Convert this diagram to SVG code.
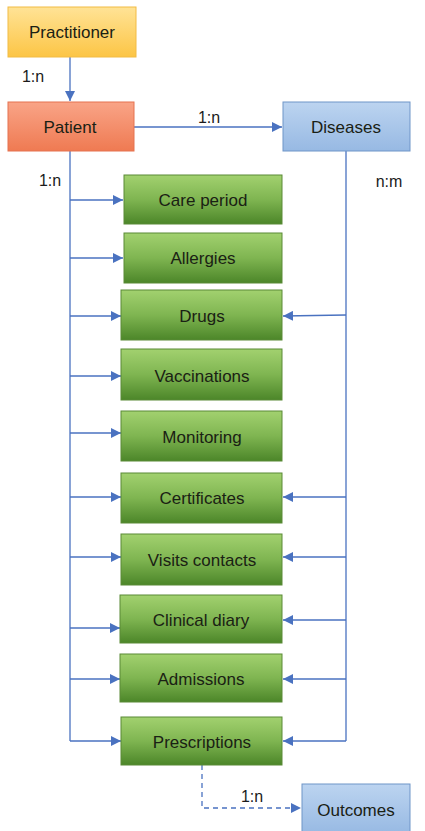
<svg xmlns="http://www.w3.org/2000/svg" width="425" height="831" viewBox="0 0 425 831">
<defs>
<linearGradient id="gY" x1="0" y1="0" x2="0" y2="1"><stop offset="0" stop-color="#ffe396"/><stop offset="1" stop-color="#fcc545"/></linearGradient>
<linearGradient id="gR" x1="0" y1="0" x2="0" y2="1"><stop offset="0" stop-color="#f9a487"/><stop offset="1" stop-color="#ef7a52"/></linearGradient>
<linearGradient id="gB" x1="0" y1="0" x2="0" y2="1"><stop offset="0" stop-color="#bcd4f0"/><stop offset="1" stop-color="#97b9e3"/></linearGradient>
<linearGradient id="gG" x1="0" y1="0" x2="0" y2="1"><stop offset="0" stop-color="#a2d16f"/><stop offset="0.5" stop-color="#7fb551"/><stop offset="1" stop-color="#4c8629"/></linearGradient>
<marker id="ar" viewBox="0 0 10 10" refX="10" refY="5" markerWidth="10" markerHeight="10" markerUnits="userSpaceOnUse" orient="auto"><path d="M0,0 L10,5 L0,10 z" fill="#4a72c0"/></marker>
</defs>
<style>
.t{font-family:"Liberation Sans",Arial,sans-serif;font-size:17px;fill:#1a2114;text-anchor:middle;dominant-baseline:central}
.g{fill:url(#gG);stroke:#5a8a36;stroke-width:1}
.c{fill:none;stroke:#4a72c0;stroke-width:1.3}
.d{stroke-dasharray:5,4}
.l{font-family:"Liberation Sans",Arial,sans-serif;font-size:16px;fill:#1b1b1b;text-anchor:middle;dominant-baseline:central}
</style>
<rect width="425" height="831" fill="#ffffff"/>
<g id="connectors">
<path class="c" d="M70,57 V101" marker-end="url(#ar)"/>
<path class="c" d="M134,127 H282" marker-end="url(#ar)"/>
<path class="c" d="M70,151 V741"/>
<path class="c" d="M70,200 H123" marker-end="url(#ar)"/>
<path class="c" d="M70,258 H123" marker-end="url(#ar)"/>
<path class="c" d="M70,316 H121" marker-end="url(#ar)"/>
<path class="c" d="M70,376 H121" marker-end="url(#ar)"/>
<path class="c" d="M70,433 H121" marker-end="url(#ar)"/>
<path class="c" d="M70,497 H121" marker-end="url(#ar)"/>
<path class="c" d="M70,557 H121" marker-end="url(#ar)"/>
<path class="c" d="M70,628 H120" marker-end="url(#ar)"/>
<path class="c" d="M70,679 H120" marker-end="url(#ar)"/>
<path class="c" d="M70,741 H121" marker-end="url(#ar)"/>
<path class="c" d="M346,151 V741"/>
<path class="c" d="M346,315 L283,316" marker-end="url(#ar)"/>
<path class="c" d="M346,497 H283" marker-end="url(#ar)"/>
<path class="c" d="M346,557 H283" marker-end="url(#ar)"/>
<path class="c" d="M346,620 H283" marker-end="url(#ar)"/>
<path class="c" d="M346,679 H283" marker-end="url(#ar)"/>
<path class="c" d="M346,741 H283" marker-end="url(#ar)"/>
<path class="c d" d="M202,765 V808 H301" marker-end="url(#ar)"/>
<text class="l" x="33" y="76">1:n</text>
<text class="l" x="209" y="117">1:n</text>
<text class="l" x="50" y="180">1:n</text>
<text class="l" x="389" y="181">n:m</text>
<text class="l" x="252" y="796">1:n</text>
</g>
<g id="practitioner"><rect x="8" y="7" width="128" height="50" fill="url(#gY)" stroke="#f2bb45"/><text class="t" x="72" y="32">Practitioner</text></g>
<g id="patient"><rect x="8" y="102" width="126" height="49" fill="url(#gR)" stroke="#e57350"/><text class="t" x="70" y="127">Patient</text></g>
<g id="diseases"><rect x="283" y="102" width="127" height="49" fill="url(#gB)" stroke="#6f95c8"/><text class="t" x="346" y="127">Diseases</text></g>
<g id="care-period"><rect class="g" x="124" y="175" width="158" height="49"/><text class="t" x="203" y="200">Care period</text></g>
<g id="allergies"><rect class="g" x="124" y="233" width="158" height="50"/><text class="t" x="203" y="258">Allergies</text></g>
<g id="drugs"><rect class="g" x="121" y="290" width="161" height="50"/><text class="t" x="202" y="316">Drugs</text></g>
<g id="vaccinations"><rect class="g" x="121" y="349" width="161" height="51"/><text class="t" x="202" y="376">Vaccinations</text></g>
<g id="monitoring"><rect class="g" x="121" y="411" width="161" height="50"/><text class="t" x="202" y="437">Monitoring</text></g>
<g id="certificates"><rect class="g" x="121" y="473" width="161" height="50"/><text class="t" x="202" y="498">Certificates</text></g>
<g id="visits-contacts"><rect class="g" x="121" y="534" width="161" height="51"/><text class="t" x="202" y="560">Visits contacts</text></g>
<g id="clinical-diary"><rect class="g" x="120" y="595" width="162" height="48"/><text class="t" x="201" y="620">Clinical diary</text></g>
<g id="admissions"><rect class="g" x="120" y="654" width="162" height="48"/><text class="t" x="201" y="679">Admissions</text></g>
<g id="prescriptions"><rect class="g" x="121" y="717" width="161" height="48"/><text class="t" x="202" y="742">Prescriptions</text></g>
<g id="outcomes"><rect x="302" y="784" width="108" height="50" fill="url(#gB)" stroke="#6f95c8"/><text class="t" x="356" y="810">Outcomes</text></g>
</svg>
